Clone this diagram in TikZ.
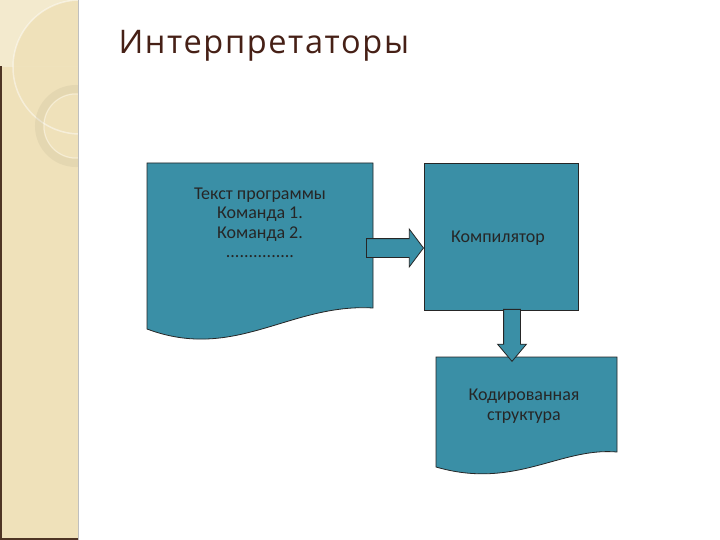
\documentclass[tikz,border=0pt]{standalone}
\usepackage{fontspec}
\setmainfont{Carlito}
\newfontfamily\titlefont[LetterSpace=5]{Open Sans}
\usepackage{tikz}
\usetikzlibrary{calc,shapes.arrows}
\definecolor{stripcol}{RGB}{239,225,186}
\definecolor{tealcol}{RGB}{58,143,166}
\definecolor{titlecol}{RGB}{70,32,22}
\definecolor{edgecol}{RGB}{78,52,36}
\tikzstyle{docshape} = [draw=black!85,line width=0.8pt,fill=tealcol]
\tikzstyle{txt} = [align=center,text=black!85,font=\fontsize{18}{19.5}\selectfont]
\tikzstyle{blockar} = [single arrow,draw=black!85,line width=0.8pt,fill=tealcol]

\begin{document}
\begin{tikzpicture}[x=1pt,y=-1pt]
			\useasboundingbox (0,0) rectangle (720,540);
			\fill[white] (0,0) rectangle (720,540);
			\fill[stripcol] (0,0) rectangle (78,540);
			\begin{scope}
				\clip (0,0) rectangle (78,67);
				\fill[white,opacity=0.3,even odd rule] (0,0) rectangle (78,67) (80,67) circle (67);
			\end{scope}
			\begin{scope}
				\clip (0,0) rectangle (78,540);
				\draw[white,opacity=0.45,line width=1.5pt] (80,67) circle (67);
				\draw[black!30!stripcol,opacity=0.15,line width=8pt] (76,126) circle (37);
				\draw[white,opacity=0.4,line width=1pt] (76,126) circle (32);
			\end{scope}
			\fill[edgecol] (0,66) rectangle (2,540);
			\fill[edgecol] (0,538) rectangle (78,540);
			\draw[black!25,line width=1pt] (78.5,0) -- (78.5,540);
			\node[anchor=base west,font=\titlefont\fontsize{32.5}{38}\selectfont,text=titlecol] (title) at (115,54) {Интерпретаторы};
			\draw[docshape] (147,163) -- (373,163) -- (373,308) .. controls (290,303) and (235,362) .. (147,329) -- cycle;
			\node[txt] (prog) at (260,223) {Текст программы\\Команда 1.\\Команда 2.\\...............};
			\draw[docshape] (424,163) rectangle (578,310);
			\node[txt] (comp) at (498,238) {Компилятор};
			\draw[docshape] (436,357) -- (617,357) -- (617,452) .. controls (560,447) and (515,490) .. (436,467) -- cycle;
			\node[txt] (code) at (524,406) {Кодированная\\структура};
			\node[blockar,anchor=tip,inner sep=9pt,minimum height=57pt,single arrow head extend=9.5pt,single arrow tip angle=106] (ar1) at (424,248) {};
			\node[blockar,anchor=tip,inner sep=8pt,minimum height=52pt,single arrow head extend=6pt,single arrow tip angle=80,shape border rotate=270] (ar2) at (512,362) {};
		\end{tikzpicture}
\end{document}
